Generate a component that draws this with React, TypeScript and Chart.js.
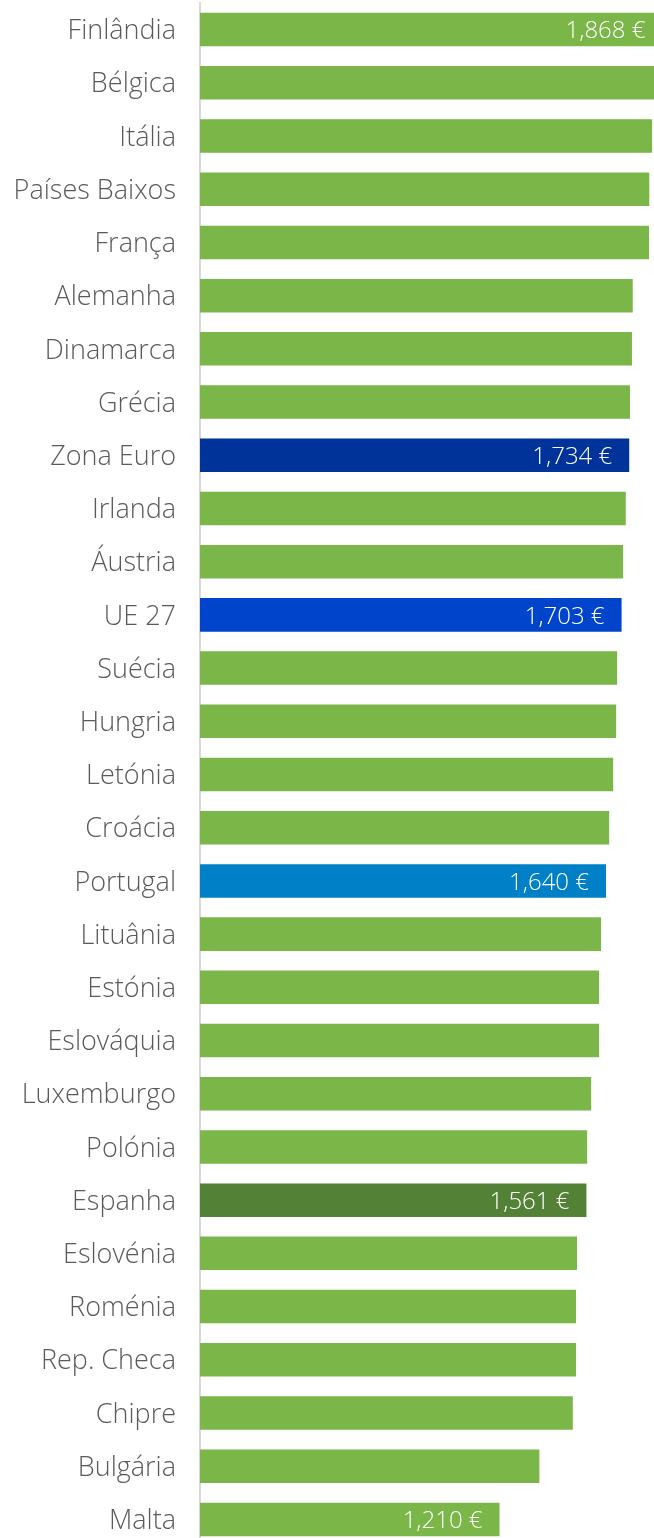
import React, { useEffect, useRef } from "react";
import { Chart, registerables } from "chart.js";

Chart.register(...registerables);

const categories = [
  "Finlândia", "Bélgica", "Itália", "Países Baixos", "França", "Alemanha", "Dinamarca",
  "Grécia", "Zona Euro", "Irlanda", "Áustria", "UE 27", "Suécia", "Hungria", "Letónia",
  "Croácia", "Portugal", "Lituânia", "Estónia", "Eslováquia", "Luxemburgo", "Polónia",
  "Espanha", "Eslovénia", "Roménia", "Rep. Checa", "Chipre", "Bulgária", "Malta",
];

const values = [
  1868, 1855, 1826, 1815, 1814, 1748, 1745,
  1737, 1734, 1720, 1709, 1703, 1685, 1681, 1669,
  1653, 1640, 1620, 1612, 1612, 1580, 1564,
  1561, 1523, 1519, 1519, 1506, 1371, 1210,
];

const labelledCategories = ["Finlândia", "Zona Euro", "UE 27", "Portugal", "Espanha", "Malta"];

const highlightColors: Record<string, string> = {
  "Zona Euro": "#003399",
  "UE 27": "#0044CC",
  "Portugal": "#0080C6",
  "Espanha": "#538135",
};
const defaultColor = "#7AB648";

const FONT = "'Open Sans', Lato, sans-serif";

const valueLabelPlugin = {
  id: "valueLabels",
  afterDatasetsDraw(chart: any) {
    const { ctx } = chart;
    const xScale = chart.scales.x;
    const meta = chart.getDatasetMeta(0);
    ctx.save();
    ctx.font = `300 24px ${FONT}`;
    ctx.fillStyle = "#ffffff";
    ctx.textAlign = "right";
    ctx.textBaseline = "middle";
    categories.forEach((c, i) => {
      if (!labelledCategories.includes(c)) return;
      const el = meta.data[i];
      const xEnd = xScale.getPixelForValue(values[i]);
      const txt = values[i].toLocaleString("en-US") + " €";
      ctx.fillText(txt, xEnd - 17, el.y + 2);
    });
    ctx.restore();
  },
};

export default function App() {
  const ref = useRef<HTMLCanvasElement | null>(null);

  useEffect(() => {
    document.body.style.margin = "0";
    const chart = new Chart(ref.current as HTMLCanvasElement, {
      type: "bar",
      data: {
        labels: categories,
        datasets: [
          {
            data: values,
            backgroundColor: categories.map((c) => highlightColors[c] || defaultColor),
            borderWidth: 0,
            barPercentage: 0.63,
            categoryPercentage: 1,
          },
        ],
      },
      options: {
        indexAxis: "y",
        animation: false,
        responsive: false,
        maintainAspectRatio: false,
        layout: { padding: { top: 3, right: 0, bottom: 0, left: 0 } },
        plugins: {
          legend: { display: false },
          tooltip: { enabled: false },
        },
        scales: {
          x: {
            display: false,
            min: 0,
            max: 1834,
          },
          y: {
            grid: { display: false, drawTicks: false },
            border: { display: true, color: "#D9D9D9", width: 2 },
            ticks: {
              color: "#5A5A5A",
              font: { family: FONT, size: 27, weight: "300" as any },
              padding: 24,
              labelOffset: 2,
              autoSkip: false,
            },
            afterFit(scale: any) {
              scale.width = 200;
              scale.paddingTop = 0;
              scale.paddingBottom = 0;
            },
          },
        },
      },
      plugins: [valueLabelPlugin],
    });
    return () => chart.destroy();
  }, []);

  return (
    <div style={{ width: 654, height: 1538, overflow: "hidden", background: "#fff" }}>
      <canvas ref={ref} width={654} height={1546} style={{ display: "block" }} />
    </div>
  );
}
